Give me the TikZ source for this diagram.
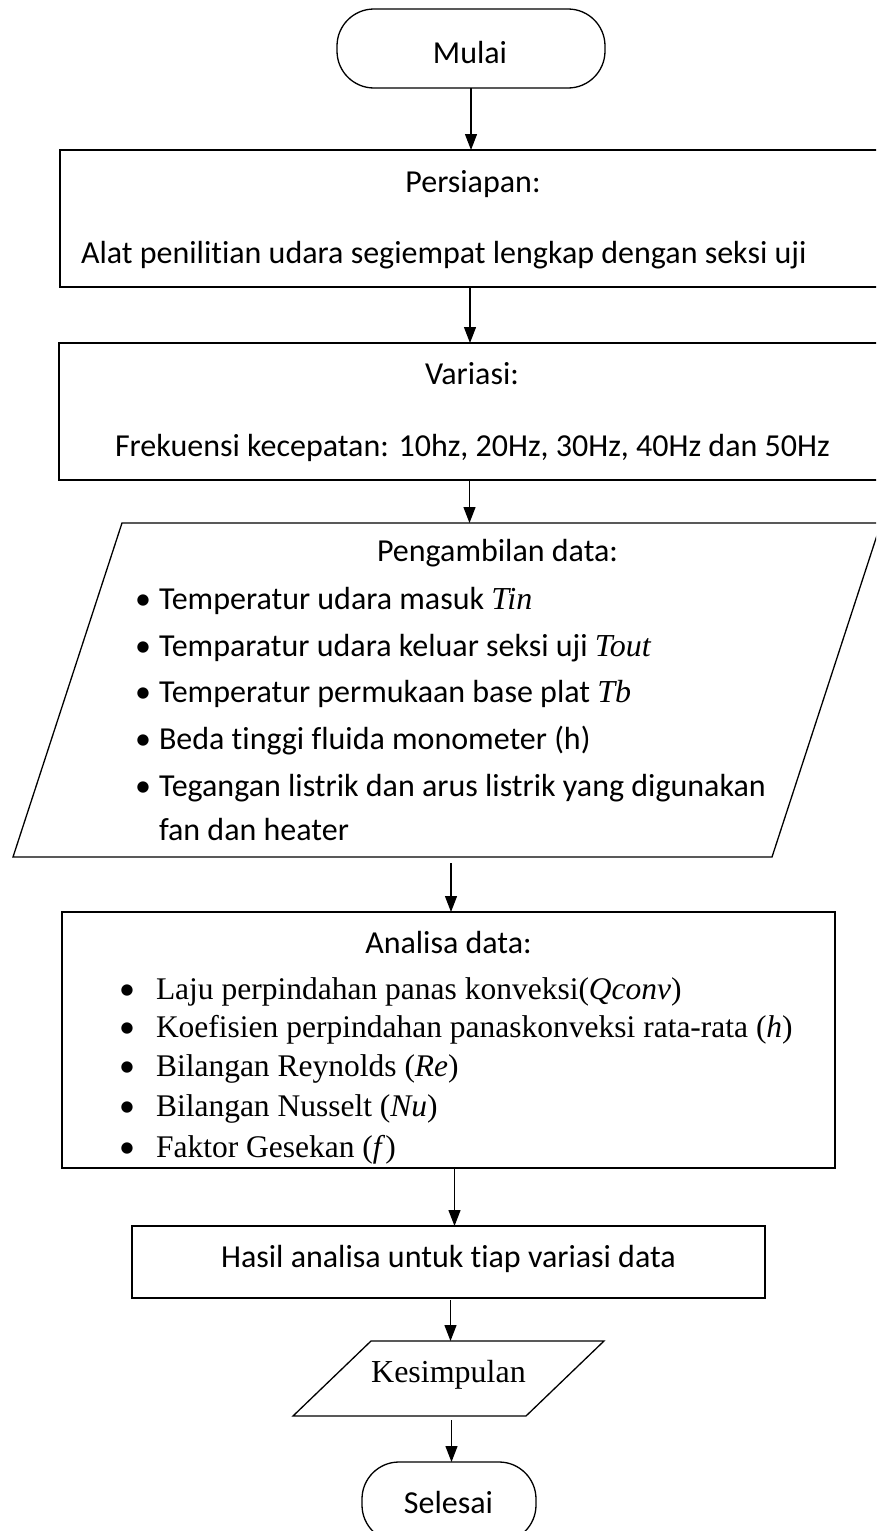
\documentclass[tikz,border=0pt]{standalone}
\usepackage{fontspec}
\setmainfont{Carlito}[Ligatures={NoCommon}]
\newfontfamily\tnr{Liberation Serif}
\usetikzlibrary{arrows.meta}
\begin{document}
\begin{tikzpicture}[x=1pt,y=-1pt,
  every node/.style={outer sep=0pt},
  thickbox/.style={draw, line width=2.4pt, rectangle, inner sep=0pt},
  termbox/.style={draw, line width=1.3pt, rounded corners=37pt, rectangle, inner sep=0pt},
  iobound/.style={rectangle, inner sep=0pt},
  ioline/.style={line width=1.3pt, line join=miter},
  arr/.style={line width=1.3pt, -{Triangle[length=16pt,width=12pt]}},
  cal/.style={font=\fontsize{32}{38}\selectfont, inner sep=0pt},
  tms/.style={font=\tnr\fontsize{31.5}{36}\selectfont, inner sep=0pt},
  tmsbig/.style={font=\tnr\fontsize{32}{38}\selectfont, inner sep=0pt},
  mathit/.style={font=\tnr\itshape\fontsize{32}{38}\selectfont, inner sep=0pt},
]
\useasboundingbox (0,0) rectangle (876,1531);
\clip (0,0) rectangle (876,1531);

% shapes
\node[termbox, minimum width=268pt, minimum height=79pt] (mulai) at (471,48.5) {};
\node[thickbox, minimum width=820pt, minimum height=137pt] (persiapan) at (470,218.5) {};
\node[thickbox, minimum width=821pt, minimum height=137pt] (variasi) at (469.5,411.5) {};
\node[iobound, minimum width=868pt, minimum height=334pt] (para) at (447,690) {};
\draw[ioline] ([xshift=109pt]para.north west) -- (para.north east)
  -- ([xshift=-109pt]para.south east) -- (para.south west) -- cycle;
\node[thickbox, minimum width=773pt, minimum height=256pt] (analisa) at (448.5,1040) {};
\node[thickbox, minimum width=633pt, minimum height=72pt] (hasil) at (448.5,1262) {};
\node[iobound, minimum width=311pt, minimum height=75pt] (kesimpulan) at (448.5,1378.5) {};
\draw[ioline] ([xshift=78pt]kesimpulan.north west) -- (kesimpulan.north east)
  -- ([xshift=-78pt]kesimpulan.south east) -- (kesimpulan.south west) -- cycle;
\node[termbox, minimum width=174pt, minimum height=80pt] (selesai) at (449,1502) {};

% texts
\node[cal, anchor=base] (tmulai) at (470,63) {Mulai};
\node[cal, anchor=base] (tpers) at (473,192) {Persiapan:};
\node[cal, anchor=base west] (talat) at (81,263) {Alat penilitian udara segiempat lengkap dengan seksi uji};
\node[cal, anchor=base] (tvar) at (472,384) {Variasi:};
\node[cal, anchor=base west] (tfrek) at (115,456) {Frekuensi kecepatan: 10hz, 20Hz, 30Hz, 40Hz dan 50Hz};
\node[cal, anchor=base east] (tpeng) at (618,561) {Pengambilan data:};
\node[cal, anchor=base] (b1) at (143,609) {•};
\node[cal, anchor=base west] (p1) at (159,609) {Temperatur udara masuk {\tnr\itshape Tin}};
\node[cal, anchor=base] (b2) at (143,656) {•};
\node[cal, anchor=base west] (p2) at (159,656) {Temparatur udara keluar seksi uji {\tnr\itshape Tout}};
\node[cal, anchor=base] (b3) at (143,702) {•};
\node[cal, anchor=base west] (p3) at (159,702) {Temperatur permukaan base plat {\tnr\itshape Tb}};
\node[cal, anchor=base] (b4) at (143,749) {•};
\node[cal, anchor=base west] (p4) at (159,749) {Beda tinggi fluida monometer (h)};
\node[cal, anchor=base] (b5) at (143,796) {•};
\node[cal, anchor=base west] (p5) at (159,796) {Tegangan listrik dan arus listrik yang digunakan};
\node[cal, anchor=base west] (p6) at (159,840) {fan dan heater};

\node[cal, anchor=base] (tanal) at (448.5,953) {Analisa data:};
\node[cal, anchor=base] (c1) at (127,999) {•};
\node[tms, anchor=base west] (a1) at (156,999) {Laju perpindahan panas konveksi(\textit{Qconv})};
\node[cal, anchor=base] (c2) at (127,1037) {•};
\node[tms, anchor=base west] (a2) at (156,1037) {Koefisien perpindahan panaskonveksi rata-rata (\textit{h})};
\node[cal, anchor=base] (c3) at (127,1076) {•};
\node[tms, anchor=base west] (a3) at (156,1076) {Bilangan Reynolds (\textit{Re})};
\node[cal, anchor=base] (c4) at (127,1116) {•};
\node[tms, anchor=base west] (a4) at (156,1116) {Bilangan Nusselt (\textit{Nu})};
\node[cal, anchor=base] (c5) at (127,1157) {•};
\node[tms, anchor=base west] (a5) at (156,1157) {Faktor Gesekan (\textit{f})};

\node[cal, anchor=base] (thasil) at (448.5,1267) {Hasil analisa untuk tiap variasi data};
\node[tmsbig, anchor=base] (tkes) at (448.5,1382) {Kesimpulan};
\node[cal, anchor=base] (tsel) at (448.5,1513) {Selesai};

% connectors
\draw[arr] (mulai.south) -- (mulai.south |- persiapan.north);
\draw[arr] (persiapan.south) -- (persiapan.south |- variasi.north);
\draw[arr] (variasi.south) -- (variasi.south |- para.north);
\draw[arr] ([yshift=-6pt,xshift=4pt]para.south) -- ([xshift=4pt]para.south |- analisa.north);
\draw[arr] ([xshift=6pt]analisa.south) -- ([xshift=6pt]analisa.south |- hasil.north);
\draw[arr] ([yshift=-2pt,xshift=2pt]hasil.south) -- ([xshift=2pt]hasil.south |- kesimpulan.north);
\draw[arr] ([yshift=-4pt,xshift=3pt]kesimpulan.south) -- ([xshift=3pt]kesimpulan.south |- selesai.north);
\end{tikzpicture}
\end{document}
